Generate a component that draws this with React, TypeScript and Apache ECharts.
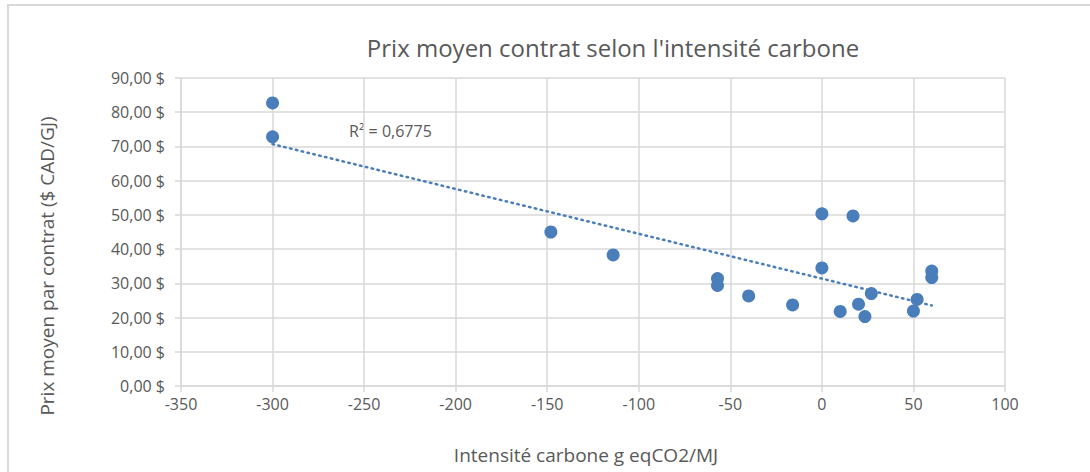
import React, { useEffect, useRef } from "react";
import * as echarts from "echarts";

const chartTitle = "Prix moyen contrat selon l'intensité carbone";
const xAxisTitle = "Intensité carbone g eqCO2/MJ";
const yAxisTitle = "Prix moyen par contrat ($ CAD/GJ)";
const r2Label = "R² = 0,6775";

const intensity = [-300, -300, -148, -114, -57, -57, -40, -16, 0, 0, 17, 10, 20, 23.5, 27, 52, 50, 60, 60];
const price = [82.7, 72.8, 45.0, 38.3, 31.4, 29.4, 26.3, 23.7, 50.3, 34.5, 49.7, 21.8, 23.9, 20.3, 27.0, 25.3, 21.9, 33.6, 31.7];

const FONT = "'Open Sans'";
const TXT = "#595959";
const GRID = "#d9d9d9";
const BLUE = "#4a7ebb";

function trend(xs: number[], ys: number[]) {
  const n = xs.length;
  const mx = xs.reduce((a, b) => a + b, 0) / n;
  const my = ys.reduce((a, b) => a + b, 0) / n;
  let sxx = 0, sxy = 0;
  for (let i = 0; i < n; i++) {
    sxx += (xs[i] - mx) ** 2;
    sxy += (xs[i] - mx) * (ys[i] - my);
  }
  const b = sxy / sxx;
  const a = my - b * mx;
  const x0 = Math.min(...xs);
  const x1 = Math.max(...xs);
  return [[x0, a + b * x0], [x1, a + b * x1]];
}

export default function App() {
  const ref = useRef<HTMLDivElement>(null);
  useEffect(() => {
    if (!ref.current) return;
    const chart = echarts.init(ref.current, null, { renderer: "svg" });
    const pts = intensity.map((x, i) => [x, price[i]]);
    chart.setOption({
      animation: false,
      backgroundColor: "#ffffff",
      grid: { left: 181, right: 85, top: 78, bottom: 86, containLabel: false },
      xAxis: {
        type: "value",
        min: -350,
        max: 100,
        interval: 50,
        axisLine: { show: true, onZero: false, lineStyle: { color: GRID, width: 1.5 } },
        axisTick: { show: true, length: 6, lineStyle: { color: GRID, width: 1.5 } },
        axisLabel: { color: TXT, fontFamily: FONT, fontSize: 16, margin: 10 },
        splitLine: { show: true, lineStyle: { color: GRID, width: 1.5 } },
      },
      yAxis: {
        type: "value",
        min: 0,
        max: 90,
        interval: 10,
        axisLine: { show: true, onZero: false, lineStyle: { color: GRID, width: 1.5 } },
        axisTick: { show: true, length: 6, lineStyle: { color: GRID, width: 1.5 } },
        axisLabel: {
          color: TXT,
          fontFamily: FONT,
          fontSize: 16,
          margin: 16,
          formatter: (v: number) => v.toFixed(2).replace(".", ",") + " $",
        },
        splitLine: { show: true, lineStyle: { color: GRID, width: 1.5 } },
      },
      graphic: [
        {
          type: "rect",
          shape: { x: 8, y: 5, width: 1200, height: 600 },
          style: { fill: "none", stroke: GRID, lineWidth: 2 },
          silent: true,
          z: -10,
        },
        {
          type: "text",
          x: 613,
          y: 47,
          style: { text: chartTitle, fill: TXT, font: `24px ${FONT}`, textAlign: "center", textVerticalAlign: "middle" },
        },
        {
          type: "text",
          x: 586,
          y: 455,
          style: { text: xAxisTitle, fill: TXT, font: `19px ${FONT}`, textAlign: "center", textVerticalAlign: "middle" },
        },
        {
          type: "text",
          x: 47,
          y: 266,
          rotation: Math.PI / 2,
          style: { text: yAxisTitle, fill: TXT, font: `19px ${FONT}`, textAlign: "center", textVerticalAlign: "middle" },
        },
        {
          type: "text",
          x: 349,
          y: 131,
          style: { text: r2Label, fill: TXT, font: `16px ${FONT}`, textAlign: "left", textVerticalAlign: "middle" },
        },
      ],
      series: [
        {
          type: "line",
          data: trend(intensity, price),
          symbol: "none",
          lineStyle: { color: BLUE, width: 2.5, type: [1.5, 4.5], cap: "round" },
          z: 3,
        },
        {
          type: "scatter",
          data: pts,
          symbol: "circle",
          symbolSize: 13,
          itemStyle: { color: BLUE, opacity: 1 },
          z: 4,
        },
      ],
    });
    return () => chart.dispose();
  }, []);
  return <div ref={ref} style={{ position: "fixed", left: 0, top: 0, width: 1090, height: 472 }} />;
}
